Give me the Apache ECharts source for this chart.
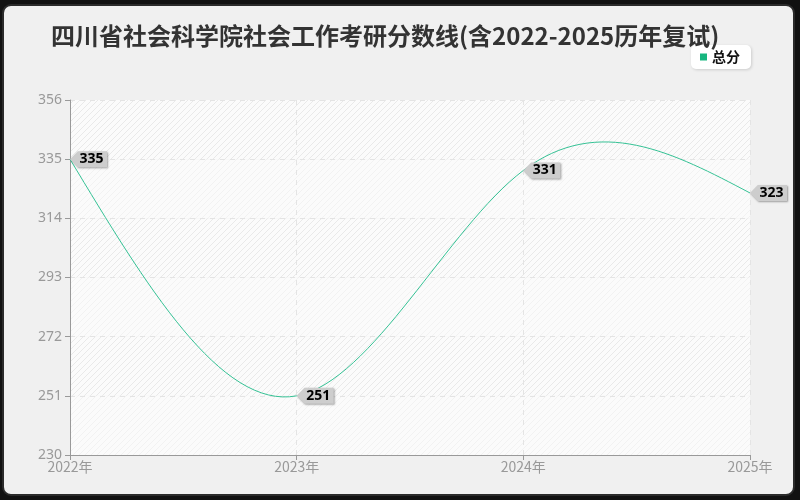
<!DOCTYPE html>
<html>
<head>
<meta charset="utf-8">
<script src="https://cdn.jsdelivr.net/npm/echarts@6/dist/echarts.min.js"></script>
<style>
html,body{margin:0;padding:0;width:800px;height:500px;background:#111;overflow:hidden;}
#frame{position:absolute;left:2px;top:4px;width:793px;height:492px;box-sizing:border-box;border:2px solid #2a2a2a;border-radius:9px;background:#f0f0f0;}
#chart{position:absolute;left:0;top:0;width:800px;height:500px;}
</style>
</head>
<body>
<div id="frame"></div>
<div id="chart"></div>
<script>
const titleText = '四川省社会科学院社会工作考研分数线(含2022-2025历年复试)';
const categories = ['2022年', '2023年', '2024年', '2025年'];
const seriesName = '总分';
const totalScores = [335, 251, 331, 323];
const yMin = 230, yMax = 356, yStep = 21;

// natural cubic spline slopes (per category step) for the drawn curve
function naturalSlopes(y) {
  const n = y.length;
  const M = new Array(n).fill(0);
  if (n > 2) {
    const a = [], b = [], c = [], d = [];
    for (let i = 1; i < n - 1; i++) {
      a.push(1); b.push(4); c.push(1);
      d.push(6 * (y[i - 1] - 2 * y[i] + y[i + 1]));
    }
    const m = d.length;
    for (let i = 1; i < m; i++) {
      const w = a[i] / b[i - 1];
      b[i] -= w * c[i - 1];
      d[i] -= w * d[i - 1];
    }
    const sol = new Array(m);
    sol[m - 1] = d[m - 1] / b[m - 1];
    for (let i = m - 2; i >= 0; i--) sol[i] = (d[i] - c[i] * sol[i + 1]) / b[i];
    for (let i = 0; i < m; i++) M[i + 1] = sol[i];
  }
  const s = [];
  for (let i = 0; i < n - 1; i++) s.push((y[i + 1] - y[i]) - (2 * M[i] + M[i + 1]) / 6);
  s.push((y[n - 1] - y[n - 2]) + (M[n - 2] + 2 * M[n - 1]) / 6);
  return s;
}

function hatch(bg, line) {
  const c = document.createElement('canvas');
  const s = 6;
  c.width = s; c.height = s;
  const g = c.getContext('2d');
  g.fillStyle = bg; g.fillRect(0, 0, s, s);
  g.strokeStyle = line; g.lineWidth = 1;
  g.beginPath();
  g.moveTo(0, s); g.lineTo(s, 0);
  g.moveTo(-s, s); g.lineTo(0, 0);
  g.moveTo(0, 2 * s); g.lineTo(2 * s, 0);
  g.stroke();
  return c;
}

const slopes = naturalSlopes(totalScores);

function renderSpline(params, api) {
  if (params.dataIndex !== 0) return null;
  const pts = totalScores.map((v, i) => api.coord([i, v]));
  const yPix = (i, v) => api.coord([i, v])[1];
  let d = 'M' + pts[0][0] + ' ' + pts[0][1];
  for (let i = 1; i < pts.length; i++) {
    const x0 = pts[i - 1][0], x1 = pts[i][0];
    const c1x = x0 + (x1 - x0) / 3, c2x = x1 - (x1 - x0) / 3;
    const c1y = yPix(i - 1, totalScores[i - 1] + slopes[i - 1] / 3);
    const c2y = yPix(i, totalScores[i] - slopes[i] / 3);
    d += ' C' + c1x + ' ' + c1y + ' ' + c2x + ' ' + c2y + ' ' + x1 + ' ' + pts[i][1];
  }
  return {
    type: 'path',
    shape: {pathData: d},
    style: {fill: null, stroke: '#35c295', lineWidth: 1}
  };
}

const chart = echarts.init(document.getElementById('chart'), null, {renderer: 'canvas'});
chart.setOption({
  backgroundColor: 'transparent',
  animation: false,
  title: {
    text: titleText,
    left: 46, top: 19,
    textStyle: {fontSize: 24, fontWeight: 'bold', color: '#333', fontFamily: 'Noto Sans CJK SC'}
  },
  legend: {
    right: 49, top: 45,
    backgroundColor: '#fff',
    borderRadius: 5,
    padding: [5, 11, 5, 9],
    shadowColor: 'rgba(0,0,0,0.15)', shadowBlur: 3, shadowOffsetX: 1, shadowOffsetY: 1,
    itemWidth: 7, itemHeight: 7, itemGap: 5,
    textStyle: {fontSize: 14, color: '#111', fontWeight: 'bold', fontFamily: 'Noto Sans CJK SC'},
    data: [{name: seriesName, icon: 'rect', itemStyle: {color: '#17b67f'}}]
  },
  grid: {left: 70, right: 50, top: 100, bottom: 45, containLabel: false},
  xAxis: {
    type: 'category',
    data: categories,
    boundaryGap: false,
    axisLine: {show: true, lineStyle: {color: '#999'}},
    axisTick: {show: true, length: 5, lineStyle: {color: '#999'}},
    axisLabel: {color: '#999', fontSize: 14, margin: 5, fontFamily: 'Noto Sans CJK SC'},
    splitLine: {show: true, lineStyle: {type: [5, 5], color: '#e4e4e4'}}
  },
  yAxis: {
    type: 'value',
    min: yMin, max: yMax, interval: yStep,
    axisLine: {show: true, lineStyle: {color: '#999'}},
    axisTick: {show: true, length: 5, lineStyle: {color: '#999'}},
    axisLabel: {color: '#999', fontSize: 14, margin: 8, fontFamily: 'Noto Sans'},
    splitLine: {show: true, lineStyle: {type: [5, 5], color: '#e4e4e4'}},
    splitArea: {
      show: true,
      areaStyle: {
        color: [
          {image: hatch('#fbfbfb', '#f2f2f2'), repeat: 'repeat'},
          {image: hatch('#fbfbfb', '#e9e9e9'), repeat: 'repeat'}
        ]
      }
    }
  },
  series: [{
    name: seriesName + '_curve',
    type: 'custom',
    renderItem: renderSpline,
    data: [[0, totalScores[0]]],
    z: 1,
    silent: true,
    clip: false
  }, {
    name: seriesName,
    type: 'line',
    data: totalScores,
    z: 3,
    symbol: 'path://M0,8 L8,0 L38,0 L38,16 L8,16 Z',
    symbolSize: [37, 16],
    symbolOffset: [18.5, 0],
    symbolKeepAspect: false,
    itemStyle: {color: '#cdcdcd', shadowColor: 'rgba(0,0,0,0.35)', shadowBlur: 2, shadowOffsetX: 1, shadowOffsetY: 1},
    lineStyle: {color: '#35c295', width: 0, opacity: 0},
    label: {
      show: true,
      position: 'inside',
      offset: [3, 0],
      color: '#000',
      fontSize: 14,
      fontWeight: 'bold',
      fontFamily: 'Noto Sans'
    },
    emphasis: {disabled: true}
  }]
});
</script>
</body>
</html>
